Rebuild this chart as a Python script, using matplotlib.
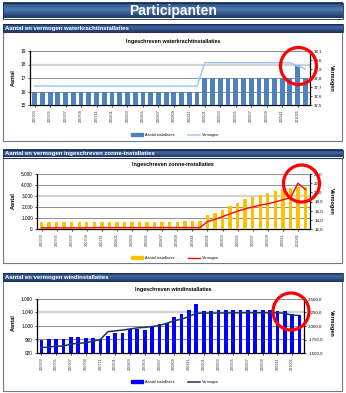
import numpy as np
import matplotlib
matplotlib.use("Agg")
import matplotlib.pyplot as plt
from matplotlib.patches import Rectangle, Ellipse
from matplotlib.lines import Line2D

plt.rcParams['font.family'] = ['Liberation Sans', 'DejaVu Sans']

W, H = 346, 393

months = ['200703', '200704', '200705', '200706', '200707', '200708', '200709', '200710',
          '200711', '200712', '200801', '200802', '200803', '200804', '200805', '200806',
          '200807', '200808', '200809', '200810', '200811', '200812', '200901', '200902',
          '200903', '200904', '200905', '200906', '200907', '200908', '200909', '200910',
          '200911', '200912', '201001', '201002']

# waterkracht
water_count = [16, 16, 16, 16, 16, 16, 16, 16, 16, 16, 16, 16, 16, 16, 16, 16, 16, 16,
               16, 16, 16, 16, 17, 17, 17, 17, 17, 17, 17, 17, 17, 17, 17, 17, 18, 17]
water_power = [37.71, 37.71, 37.71, 37.71, 37.71, 37.71, 37.71, 37.71, 37.71, 37.71,
               37.71, 37.71, 37.71, 37.71, 37.71, 37.71, 37.71, 37.71, 37.71, 37.71,
               37.71, 37.71, 37.97, 37.97, 37.97, 37.97, 37.97, 37.97, 37.97, 37.97,
               37.97, 37.97, 37.97, 37.97, 37.935, 37.90]

# zon
solar_count = [640, 640, 640, 640, 640, 640, 640, 640, 640, 640, 640, 640, 640, 640,
               640, 640, 640, 640, 660, 700, 740, 770, 1250, 1500, 1750, 2050, 2400,
               2700, 2900, 3050, 3250, 3450, 3600, 3750, 3850, 3850]
solar_power = [12.25, 12.25, 12.25, 12.25, 12.25, 12.25, 12.25, 12.3, 12.3, 12.3, 12.3,
               12.3, 12.3, 12.3, 12.3, 12.3, 12.3, 12.3, 12.3, 12.3, 12.3, 12.3, 13.6,
               14.1, 14.7, 15.3, 15.9, 16.4, 16.8, 17.2, 17.5, 17.9, 18.4, 18.8, 22.0, 20.6]

# wind
wind_count = [958, 960, 962, 962, 966, 966, 964, 964, 962, 970, 978, 980, 990, 990, 988,
              998, 1006, 1008, 1028, 1036, 1046, 1065, 1043, 1043, 1046, 1046, 1046, 1048,
              1048, 1046, 1046, 1046, 1045, 1044, 1036, 1033]
wind_power = [1600, 1610, 1625, 1630, 1665, 1680, 1690, 1720, 1750, 1895, 1910, 1925,
              1945, 1965, 1975, 1990, 2010, 2050, 2100, 2125, 2175, 2237, 2240, 2240,
              2242, 2242, 2244, 2244, 2245, 2245, 2245, 2245, 2245, 2235, 2200, 2195]


def nl(v, dec=0):
    s = f"{v:,.{dec}f}"
    return s.replace(',', 'X').replace('.', ',').replace('X', '.')


def frac(x0, y0, x1, y1):
    return [x0 / W, 1 - y1 / H, (x1 - x0) / W, (y1 - y0) / H]


fig = plt.figure(figsize=(W / 100, H / 100), dpi=100)
bg = fig.add_axes([0, 0, 1, 1], zorder=-5)
bg.set_axis_off()


def banner(x0, y0, x1, y1, c_edge, c_mid):
    a = np.array(matplotlib.colors.to_rgb(c_edge))
    b = np.array(matplotlib.colors.to_rgb(c_mid))
    t = np.linspace(0, 1, 40)
    w = 1 - np.abs(t - 0.45) / 0.55
    grad = a[None, :] * (1 - w[:, None]) + b[None, :] * w[:, None]
    bg.imshow(grad[:, None, :], extent=(x0, x1, y1, y0), aspect='auto', zorder=1)
    bg.add_patch(Rectangle((x0, y0), x1 - x0, y1 - y0, fill=False, ec='#15294d', lw=0.6, zorder=2))


# titel
banner(3.3, 3.3, 343, 18.5, '#1b3864', '#4f79b2')
bg.text(173, 11, 'Participanten', color='white', fontsize=10, fontweight='bold',
        ha='center', va='center', zorder=3)

headers = [(24, 'Aantal en vermogen waterkrachtinstallaties', 141),
           (149.5, 'Aantal en vermogen ingeschreven zonne-installaties', 263),
           (273.3, 'Aantal en vermogen windinstallaties', 391)]
for y0, txt, yb in headers:
    banner(3.3, y0, 343, y0 + 8, '#1b3564', '#41679f')
    bg.text(5, y0 + 4.2, txt, color='white', fontsize=4.3, fontweight='bold',
            ha='left', va='center', zorder=3)
    bg.add_patch(Rectangle((3.3, y0 + 8), 338.4, yb - y0 - 8, fc='white', ec='#6b7a90',
                           lw=0.8, zorder=1))

bg.set_xlim(0, W)
bg.set_ylim(H, 0)


def draw_chart(rect, title, title_y, counts, power, ylim, yticks, yfmt, y2lim, y2ticks,
               y2fmt, bar_color, bar_w, line_color, line_w, light, label_y, legend_y):
    ax = fig.add_axes(frac(*rect))
    ax.patch.set_visible(False)
    x = np.arange(len(months))
    ax.bar(x, counts, width=bar_w, color=bar_color, zorder=3)
    ax.set_xlim(-0.6, len(months) - 0.4)
    ax.set_ylim(*ylim)
    for t in yticks[1:]:
        if t == light:
            ax.axhline(t, color='#d2d2d2', lw=1.6, zorder=1)
        else:
            ax.axhline(t, color='#7f7f7f', lw=0.6, zorder=1)
    ax.set_yticks(yticks)
    ax.set_yticklabels([yfmt(t) for t in yticks], fontsize=3.4)
    ax.set_xticks(x[::2])
    ax.set_xticklabels(months[::2], rotation=90, fontsize=2.8, color='#333333')
    ax.tick_params(length=1.5, width=0.5, pad=1.5)
    ax.spines['top'].set_visible(False)
    ax.spines['right'].set_visible(False)
    for s in ['left', 'bottom']:
        ax.spines[s].set_linewidth(0.9)

    ax2 = ax.twinx()
    ax2.plot(x, power, color=line_color, lw=line_w, zorder=4)
    ax2.set_ylim(*y2lim)
    ax2.set_yticks(y2ticks)
    ax2.set_yticklabels([y2fmt(t) for t in y2ticks], fontsize=3.2)
    ax2.tick_params(length=1.5, width=0.5, pad=1.5)
    ax2.spines['top'].set_visible(False)
    ax2.spines['left'].set_visible(False)
    ax2.spines['bottom'].set_visible(False)
    ax2.spines['right'].set_linewidth(0.9)

    fig.text(173 / W, 1 - title_y / H, title,
             fontsize=3.9, fontweight='bold', ha='center', va='center')
    fig.text(13 / W, 1 - label_y / H, 'Aantal', rotation=90, fontsize=4, fontweight='bold',
             ha='center', va='center')
    fig.text(331.5 / W, 1 - label_y / H, 'Vermogen', rotation=270, fontsize=4,
             fontweight='bold', ha='center', va='center')

    handles = [Rectangle((0, 0), 1, 1, color=bar_color),
               Line2D([], [], color=line_color, lw=line_w)]
    fig.legend(handles, ['Aantal installaties', 'Vermogen'], loc='center',
               bbox_to_anchor=(175 / W, 1 - legend_y / H), ncol=2, frameon=False,
               fontsize=2.7, handlelength=3.2, handleheight=0.9, columnspacing=3.5,
               handletextpad=0.6)
    return ax


draw_chart((30, 51, 310, 105), 'Ingeschreven waterkrachtinstallaties', 41.5,
           water_count, water_power, (15, 19), [15, 16, 17, 18, 19], lambda v: nl(v),
           (37.5, 38.1), [37.5, 37.6, 37.7, 37.8, 37.9, 38.0, 38.1], lambda v: nl(v, 1),
           '#4f81bd', 0.62, '#9cc8f4', 1.1, 18, 78, 135)

draw_chart((37, 174, 310, 229), 'Ingeschreven zonne-installaties', 164.3,
           solar_count, solar_power, (0, 5000), [0, 1000, 2000, 3000, 4000, 5000],
           lambda v: nl(v), (12, 24), [12, 14, 16, 18, 20, 22, 24], lambda v: nl(v, 1),
           '#ffc000', 0.45, '#ff0000', 1.0, 3000, 201, 258)

draw_chart((37, 299, 304, 353), 'Ingeschreven windinstallaties', 289,
           wind_count, wind_power, (920, 1080), [920, 960, 1000, 1040, 1080],
           lambda v: nl(v), (1500, 2500), [1500, 1750, 2000, 2250, 2500],
           lambda v: nl(v, 1), '#0000ff', 0.5, '#17375e', 1.1, 1040, 323, 382)

# rode cirkels
fg = fig.add_axes([0, 0, 1, 1], zorder=20)
fg.set_axis_off()
fg.patch.set_visible(False)
for cx, cy in [(298.5, 66), (301.5, 183.5), (291, 311.5)]:
    fg.add_patch(Ellipse((cx, cy), 36, 37, fill=False, ec='#ff0000', lw=2.3))
fg.set_xlim(0, W)
fg.set_ylim(H, 0)

fig.savefig('out.png', dpi=100)
